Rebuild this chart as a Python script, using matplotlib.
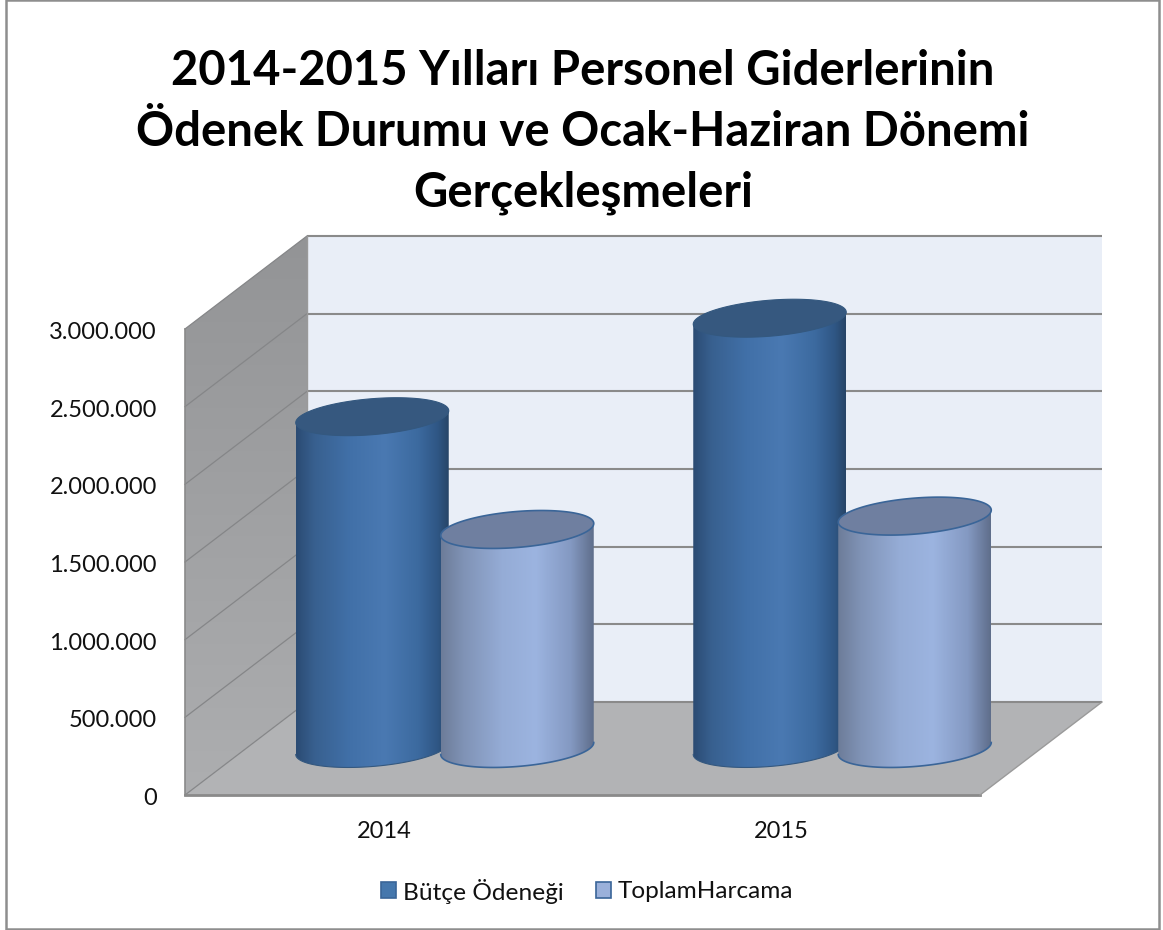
#!/usr/bin/env python3
# -*- coding: utf-8 -*-
import numpy as np
import matplotlib
matplotlib.use('Agg')
import matplotlib.pyplot as plt
from matplotlib.colors import LinearSegmentedColormap
from matplotlib.patches import PathPatch, Polygon, Rectangle
from matplotlib.path import Path

plt.rcParams['font.family'] = ['Lato', 'DejaVu Sans']

title_text = '2014-2015 Yılları Personel Giderlerinin\nÖdenek Durumu ve Ocak-Haziran Dönemi\nGerçekleşmeleri'
categories = ['2014', '2015']
series_names = ['Bütçe Ödeneği', 'ToplamHarcama']
butce_odenegi = [2136000, 2770000]
toplam_harcama = [1410000, 1496000]
y_ticks = [0, 500000, 1000000, 1500000, 2000000, 2500000, 3000000]
y_tick_labels = ['0', '500.000', '1.000.000', '1.500.000', '2.000.000', '2.500.000', '3.000.000']

# Layout of the fake 3D box, in pixels
W, H = 1163, 930
front_left, front_right, front_base = 185, 980, 795
depth_x, depth_y = 122, 93
px_per_unit = 77.67 / 500000
bar_offset = 72.5
radius_x, radius_y, tilt = 76.5, 18, -6

dark_cmap = LinearSegmentedColormap.from_list('dark', [
    (0.0, '#2b4b73'), (0.12, '#38608f'), (0.35, '#4170a8'), (0.58, '#4a79b2'),
    (0.8, '#3c6a9f'), (0.93, '#2f5684'), (1.0, '#274567')])
light_cmap = LinearSegmentedColormap.from_list('light', [
    (0.0, '#6d7c99'), (0.15, '#8093b6'), (0.4, '#95acd6'), (0.62, '#9cb4e0'),
    (0.85, '#8499c2'), (1.0, '#5f6e8b')])
dark_top, light_top = '#36587f', '#6f7fa0'
dark_edge, light_edge = '#34587f', '#3a6598'


def front_y(value):
    return front_base - value * px_per_unit


def back_y(value):
    return front_base - depth_y - value * px_per_unit


def gradient_fill(panel, path, cmap, extent, horizontal=True):
    # imshow gradient clipped to a shape
    grad = np.linspace(0, 1, 256)
    grad = grad[np.newaxis, :] if horizontal else grad[:, np.newaxis]
    im = panel.imshow(grad, cmap=cmap, extent=extent, aspect='auto', interpolation='bilinear', zorder=panel_z[0])
    patch = PathPatch(path, transform=panel.transData, facecolor='none', edgecolor='none')
    panel.add_patch(patch)
    im.set_clip_path(patch)
    panel_z[0] += 1


def draw_cylinder(panel, cx, value, cmap, top_color, edge_color, edge_width):
    base_y = front_base - depth_y / 2
    top_y = base_y - value * px_per_unit
    t = np.linspace(0, 2 * np.pi, 200)
    ex = radius_x * np.cos(t)
    ey = radius_y * np.sin(t) + tilt * np.cos(t)
    # front half of the skin: lower arc of the base + upper edge through top
    lower = np.linspace(0, np.pi, 100)
    lx = cx + radius_x * np.cos(lower)
    ly = base_y + radius_y * np.sin(lower) + tilt * np.cos(lower)
    side_x = np.concatenate([lx, [cx - radius_x, cx + radius_x]])
    side_y = np.concatenate([ly, [top_y - tilt, top_y + tilt]])
    side = Path(np.column_stack([side_x, side_y]), closed=False)
    gradient_fill(panel, side, cmap, [cx - radius_x, cx + radius_x, base_y + 30, top_y - 30])
    panel.plot(lx, ly, color=edge_color, lw=edge_width, zorder=panel_z[0])
    panel.add_patch(Polygon(np.column_stack([cx + ex, top_y + ey]), closed=True, facecolor=top_color,
                            edgecolor=edge_color, lw=edge_width, zorder=panel_z[0] + 1))
    panel_z[0] += 2


fig = plt.figure(figsize=(W / 100, H / 100), dpi=100)
panel = fig.add_axes([0, 0, 1, 1])
panel.set_xlim(0, W)
panel.set_ylim(H, 0)
panel.axis('off')
panel_z = [3]

# Chart frame
panel.add_patch(Rectangle((6, 0.5), 1153, 928.5, facecolor='white', edgecolor='#8e8e8e', lw=1.8, zorder=0))

top_value = y_ticks[-1]
# Back wall
panel.add_patch(Polygon([(front_left + depth_x, back_y(0)), (front_right + depth_x, back_y(0)),
                         (front_right + depth_x, back_y(top_value)), (front_left + depth_x, back_y(top_value))],
                        facecolor='#e9eef7', edgecolor='none', zorder=1))
# Side wall
wall_cmap = LinearSegmentedColormap.from_list('wall', ['#939496', '#adaeb0'])
wall = Path([(front_left, front_y(0)), (front_left, front_y(top_value)),
             (front_left + depth_x, back_y(top_value)), (front_left + depth_x, back_y(0))], closed=False)
gradient_fill(panel, wall, wall_cmap, [front_left, front_left + depth_x, front_y(0), back_y(top_value)], horizontal=False)
# Floor
panel.add_patch(Polygon([(front_left, front_y(0)), (front_right, front_y(0)),
                         (front_right + depth_x, back_y(0)), (front_left + depth_x, back_y(0))],
                        facecolor='#b2b3b5', edgecolor='none', zorder=panel_z[0]))
panel_z[0] += 1

# Gridlines on the walls
for v in y_ticks:
    panel.plot([front_left + depth_x, front_right + depth_x], [back_y(v), back_y(v)],
               color='#8a8a8a', lw=1.5, zorder=panel_z[0], solid_capstyle='butt')
    panel.plot([front_left, front_left + depth_x], [front_y(v), back_y(v)],
               color='#858688', lw=0.9, zorder=panel_z[0])
panel.plot([front_left, front_left], [front_y(0), front_y(top_value)], color='#8a8a8a', lw=1.2, zorder=panel_z[0])
panel.plot([front_left + depth_x] * 2, [back_y(0), back_y(top_value)], color='#9a9a9a', lw=1.0, zorder=panel_z[0])
panel.plot([front_left, front_right], [front_y(0), front_y(0)], color='#8a8a8a', lw=2.0, zorder=panel_z[0])
panel.plot([front_right, front_right + depth_x], [front_y(0), back_y(0)], color='#9a9a9a', lw=1.0, zorder=panel_z[0])
panel_z[0] += 1

# Cylinders
cat_width = (front_right - front_left) / len(categories)
for i in range(len(categories)):
    center = front_left + depth_x / 2 + cat_width * (i + 0.5)
    draw_cylinder(panel, center - bar_offset, butce_odenegi[i], dark_cmap, dark_top, dark_edge, 0.8)
    draw_cylinder(panel, center + bar_offset, toplam_harcama[i], light_cmap, light_top, light_edge, 1.2)

# Text
panel.text(583, 132, title_text, ha='center', va='center', fontsize=34, fontweight='bold',
           color='black', linespacing=1.47, zorder=50)
for v, label in zip(y_ticks, y_tick_labels):
    panel.text(157, front_y(v) + 3.5, label, ha='right', va='center', fontsize=17, color='#111111', zorder=50)
for i, label in enumerate(categories):
    panel.text(front_left + cat_width * (i + 0.5), 831, label, ha='center', va='center', fontsize=17, color='#111111', zorder=50)

# Legend
legend_x = [381, 596]
legend_face = ['#4577ad', '#9ab0da']
legend_edge = ['#3a6598', '#3a6598']
for x0, name, fc, ec in zip(legend_x, series_names, legend_face, legend_edge):
    panel.add_patch(Rectangle((x0, 882), 15, 16, facecolor=fc, edgecolor=ec, lw=1.2, zorder=50))
    panel.text(x0 + 22, 891, name, ha='left', va='center', fontsize=17.6, color='#111111', zorder=50)

plt.savefig('out.png', dpi=100)
plt.close()
